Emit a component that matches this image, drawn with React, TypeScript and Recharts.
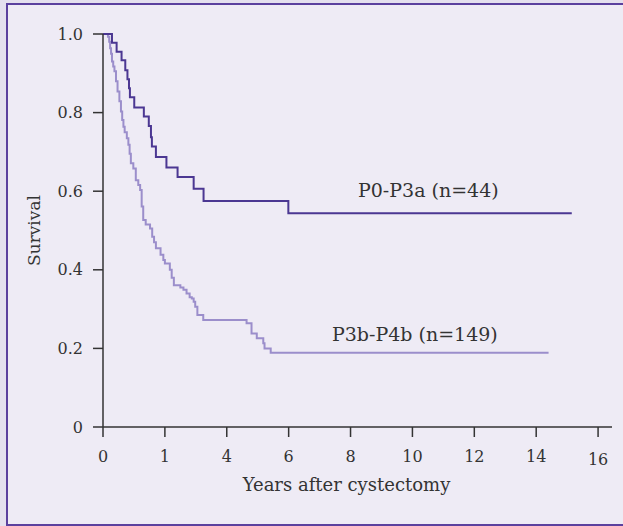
import { LineChart, Line, XAxis, YAxis } from 'recharts';

// Kaplan-Meier steps (years, survival)
const upperYears = [0, 0.29, 0.44, 0.6, 0.72, 0.79, 0.84, 0.87, 1.01, 1.32, 1.48, 1.55, 1.58, 1.71, 2.05, 2.41, 2.93, 3.25, 5.99, 15.15];
const upperSurv = [1.0, 0.978, 0.955, 0.933, 0.908, 0.885, 0.862, 0.839, 0.813, 0.79, 0.766, 0.737, 0.714, 0.687, 0.66, 0.636, 0.606, 0.575, 0.544, 0.544];

const lowerYears = [0, 0.16, 0.2, 0.23, 0.26, 0.29, 0.33, 0.37, 0.42, 0.47, 0.53, 0.58, 0.62, 0.66, 0.7, 0.77, 0.82, 0.86, 0.9, 0.98, 1.06, 1.14, 1.2, 1.25, 1.3, 1.38, 1.52, 1.59, 1.65, 1.71, 1.86, 1.95, 2.0, 2.16, 2.22, 2.29, 2.5, 2.6, 2.7, 2.8, 2.87, 2.93, 2.98, 3.05, 3.24, 4.64, 4.8, 4.97, 5.18, 5.22, 5.42, 14.4];
const lowerSurv = [1.0, 0.993, 0.98, 0.964, 0.95, 0.93, 0.917, 0.905, 0.88, 0.854, 0.829, 0.803, 0.781, 0.764, 0.75, 0.735, 0.718, 0.695, 0.671, 0.658, 0.628, 0.616, 0.603, 0.561, 0.527, 0.515, 0.505, 0.484, 0.47, 0.455, 0.438, 0.425, 0.416, 0.4, 0.38, 0.361, 0.355, 0.349, 0.34, 0.33, 0.327, 0.319, 0.306, 0.285, 0.272, 0.264, 0.238, 0.226, 0.213, 0.2, 0.189, 0.189];

const upperName = 'P0-P3a (n=44)';
const lowerName = 'P3b-P4b (n=149)';

const xTicks = [0, 2, 4, 6, 8, 10, 12, 14, 16];
const xTickLabels = ['0', '1', '4', '6', '8', '10', '12', '14', '16'];
const yTicks = [0, 0.2, 0.4, 0.6, 0.8, 1.0];
const yTickLabels = ['0', '0.2', '0.4', '0.6', '0.8', '1.0'];

const upperData = upperYears.map((t, i) => ({ t, s: upperSurv[i] }));
const lowerData = lowerYears.map((t, i) => ({ t, s: lowerSurv[i] }));

const FONT = '"DejaVu Serif", serif';
const TEXT = '#333333';

function XTick(props: any) {
  const { x, y, payload } = props;
  const i = xTicks.indexOf(payload.value);
  const extra = payload.value === 16 ? 3 : 0;
  return (
    <text x={x} y={y + extra} dy="0.71em" textAnchor="middle" fill={TEXT} fontSize={16} fontFamily={FONT}>
      {xTickLabels[i]}
    </text>
  );
}

export default function App() {
  return (
    <div style={{ position: 'absolute', left: 0, top: 0, width: 623, height: 526, background: '#e4e0ee', overflow: 'hidden' }}>
      <div
        style={{
          position: 'absolute', left: 6, top: 3, width: 617, height: 523,
          background: '#eeebf5', border: '2px solid #5b409e', borderRight: 'none', boxSizing: 'border-box',
        }}
      />
      <div style={{ position: 'absolute', left: 0, top: 0 }}>
        <LineChart width={623} height={526} margin={{ top: 34, right: 11, left: 33, bottom: 49 }}>
          <XAxis
            type="number"
            dataKey="t"
            domain={[0, 16.45]}
            ticks={xTicks}
            interval={0}
            allowDataOverflow
            tick={<XTick />}
            tickSize={10}
            tickMargin={14}
            height={50}
            stroke="#333"
            strokeWidth={1.5}
            label={{ value: 'Years after cystectomy', position: 'bottom', offset: 1, dx: -11, fill: TEXT, fontSize: 18, fontFamily: FONT }}
          />
          <YAxis
            type="number"
            dataKey="s"
            domain={[0, 1]}
            ticks={yTicks}
            interval={0}
            tickFormatter={(v: number) => yTickLabels[yTicks.indexOf(v)]}
            tick={{ fill: TEXT, fontSize: 16, fontFamily: FONT }}
            tickSize={10}
            tickMargin={10}
            width={70}
            stroke="#333"
            strokeWidth={1.5}
            label={{ value: 'Survival', angle: -90, position: 'insideLeft', offset: 1, style: { textAnchor: 'middle' }, fill: TEXT, fontSize: 17, fontFamily: FONT }}
          />
          <Line data={lowerData} dataKey="s" type="stepAfter" stroke="#9b8ecb" strokeWidth={2} dot={false} activeDot={false} isAnimationActive={false} />
          <Line data={upperData} dataKey="s" type="stepAfter" stroke="#4b3792" strokeWidth={2} dot={false} activeDot={false} isAnimationActive={false} />
        </LineChart>
      </div>
      <div style={{ position: 'absolute', left: 358, top: 179, fontFamily: FONT, fontSize: 19, color: TEXT, whiteSpace: 'nowrap' }}>
        {upperName}
      </div>
      <div style={{ position: 'absolute', left: 332, top: 323, fontFamily: FONT, fontSize: 19, color: TEXT, whiteSpace: 'nowrap' }}>
        {lowerName}
      </div>
    </div>
  );
}
